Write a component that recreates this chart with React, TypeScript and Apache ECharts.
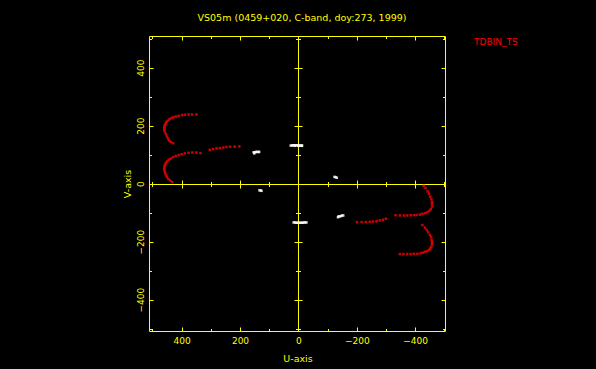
import React, { useEffect, useRef } from "react";
import * as echarts from "echarts";

const titleText = "VS05m (0459+020, C-band, doy:273, 1999)";
const sourceLabel = "TDBIN_TS";
const uName = "U-axis";
const vName = "V-axis";

const uMin = -504;
const uMax = 510;
const vMin = -506;
const vMax = 507;

const labelTicks = [-400, -200, 0, 200, 400];
const majorTicks = [-400, -200, 0, 200, 400];
const minorTicks = [-500, -300, -100, 100, 300, 500];

// red tracks (u, v)
const redArcA = [
  [351, 240], [366, 240], [378, 240], [390, 239], [400, 238], [411, 235], [420, 233], [429, 231],
  [436, 228], [443, 224], [448, 219], [453, 215], [456, 210], [459, 204], [460, 199], [461, 193],
  [461, 187], [459, 179], [455, 172], [452, 164], [448, 157], [445, 150], [439, 146], [431, 141],
];
const redArcB = [
  [337, 107], [351, 109], [365, 109], [378, 108], [391, 106], [402, 103], [412, 100], [422, 97],
  [431, 93], [439, 88], [446, 84], [452, 78], [456, 72], [459, 66], [461, 59], [461, 52],
  [460, 45], [458, 38], [455, 31], [452, 24], [447, 17], [441, 12], [434, 7],
];
const redArcC = [
  [305, 118], [294, 121], [282, 123], [271, 124], [259, 126], [248, 128], [236, 129], [220, 129], [204, 130],
];
const redArcB2 = [
  [-428, -6], [-434, -14], [-441, -25], [-446, -33], [-450, -43], [-454, -52], [-456, -61], [-456, -68],
  [-456, -77], [-452, -86], [-447, -92], [-440, -97], [-432, -100], [-423, -102], [-414, -105], [-403, -106],
  [-394, -107], [-383, -107], [-371, -108], [-360, -108], [-346, -108], [-331, -107],
];
const redArcC2 = [
  [-298, -119], [-288, -123], [-277, -125], [-266, -128], [-254, -129], [-243, -130], [-229, -131], [-215, -131], [-199, -131],
];
const redArcA2 = [
  [-423, -141], [-432, -150], [-438, -158], [-443, -166], [-449, -175], [-453, -183], [-455, -192], [-456, -200],
  [-456, -207], [-454, -215], [-451, -221], [-447, -226], [-440, -230], [-433, -233], [-425, -236], [-417, -238],
  [-406, -240], [-394, -240], [-383, -241], [-371, -241], [-358, -241], [-346, -241],
];

// white points (u, v)
const whiteA = [[155, 110], [151, 110], [147, 111], [143, 111], [139, 111], [136, 111], [153, 106]];
const whiteB = [
  [28, 133], [24, 133], [20, 134], [16, 134], [12, 134], [8, 134], [4, 134], [0, 133], [-4, 133], [-8, 133], [-11, 133],
  [14, 132], [2, 132], [-10, 132],
];
const whiteC = [[135, -21], [131, -22], [128, -23]];
const whiteD = [[-122, 25], [-126, 24], [-130, 22]];
const whiteE = [[-152, -108], [-148, -108], [-144, -110], [-140, -111], [-136, -111], [-134, -114]];
const whiteF = [
  [18, -132], [14, -132], [10, -133], [6, -133], [2, -133], [-2, -133], [-6, -133], [-10, -133],
  [-14, -133], [-18, -132], [-22, -132], [-26, -132],
];

const YEL = "#ffff00";
const FONT = "DejaVu Sans";

export default function App() {
  const ref = useRef<HTMLDivElement>(null);
  useEffect(() => {
    if (!ref.current) return;
    const chart = echarts.init(ref.current, undefined, { renderer: "svg" });

    const renderFrame = (_params: any, api: any) => {
      const crisp = (x: number) => Math.floor(x) + 0.5;
      const a = api.coord([uMin, vMin]);
      const b = api.coord([uMax, vMax]);
      const c = api.coord([0, 0]);
      const left = crisp(Math.min(a[0], b[0]));
      const right = crisp(Math.max(a[0], b[0]) - 1);
      const top = crisp(Math.min(a[1], b[1]));
      const bottom = crisp(Math.max(a[1], b[1]));
      const cx = crisp(c[0]);
      const cy = crisp(c[1]);
      const st = { stroke: YEL, lineWidth: 1 };
      const children: any[] = [];
      const ln = (x1: number, y1: number, x2: number, y2: number) =>
        children.push({ type: "line", shape: { x1, y1, x2, y2 }, style: st });
      ln(left, top, right, top);
      ln(left, bottom, right, bottom);
      ln(left, top, left, bottom);
      ln(right, top, right, bottom);
      ln(left, cy, right, cy);
      ln(cx, top, cx, bottom);
      const tickSets: [number[], number][] = [
        [majorTicks, 4],
        [minorTicks, 2.5],
      ];
      tickSets.forEach(([vals, len]) => {
        vals.forEach((t) => {
          const x = crisp(api.coord([t, 0])[0]);
          const y = crisp(api.coord([0, t])[1]);
          ln(x, bottom, x, bottom - len);
          ln(x, top, x, top + len);
          ln(x, cy - len, x, cy + len);
          ln(left, y, left + len, y);
          ln(right, y, right - len, y);
          ln(cx - len, y, cx + len, y);
        });
      });
      return { type: "group", children };
    };

    const fmt = (v: number) => (v < 0 ? "\u2212" + Math.abs(v) : String(v));
    const pts = (name: string, data: number[][], color: string) => ({
      type: "scatter",
      name,
      data,
      symbol: "rect",
      symbolSize: 2.5,
      itemStyle: { color },
      z: 3,
      silent: true,
    });

    chart.setOption({
      animation: false,
      backgroundColor: "#000",
      textStyle: { fontFamily: FONT },
      title: {
        text: titleText,
        left: 297,
        textAlign: "center",
        top: 7,
        textStyle: { color: YEL, fontSize: 9.5, fontWeight: "normal", fontFamily: FONT },
      },
      graphic: [
        {
          type: "text",
          left: 474,
          top: 37,
          style: { text: sourceLabel, fill: "#ff0000", fontSize: 9, fontFamily: FONT },
        },
      ],
      grid: { left: 150, top: 37, width: 296, height: 294 },
      xAxis: {
        type: "value",
        min: uMin,
        max: uMax,
        inverse: true,
        splitLine: { show: false },
        axisLine: { show: false, onZero: false },
        axisTick: { show: false },
        axisLabel: {
          customValues: labelTicks,
          color: YEL,
          fontSize: 9,
          margin: 5,
          fontFamily: FONT,
          formatter: fmt,
        },
        name: uName,
        nameLocation: "middle",
        nameGap: 22,
        nameTextStyle: { color: YEL, fontSize: 9.5, fontFamily: FONT },
      },
      yAxis: {
        type: "value",
        min: vMin,
        max: vMax,
        splitLine: { show: false },
        axisLine: { show: false, onZero: false },
        axisTick: { show: false },
        axisLabel: {
          customValues: labelTicks,
          color: YEL,
          fontSize: 9,
          margin: 5,
          rotate: 90,
          fontFamily: FONT,
          formatter: fmt,
        },
        name: vName,
        nameLocation: "middle",
        nameGap: 18,
        nameRotate: 90,
        nameTextStyle: { color: YEL, fontSize: 9.5, fontFamily: FONT },
      },
      series: [
        {
          type: "custom",
          coordinateSystem: "cartesian2d",
          renderItem: renderFrame,
          data: [[0, 0]],
          silent: true,
          clip: false,
          z: 1,
        },
        pts("redA", redArcA, "#ff0000"),
        pts("redB", redArcB, "#ff0000"),
        pts("redC", redArcC, "#ff0000"),
        pts("redA2", redArcA2, "#ff0000"),
        pts("redB2", redArcB2, "#ff0000"),
        pts("redC2", redArcC2, "#ff0000"),
        pts("wA", whiteA, "#ffffff"),
        pts("wB", whiteB, "#ffffff"),
        pts("wC", whiteC, "#ffffff"),
        pts("wD", whiteD, "#ffffff"),
        pts("wE", whiteE, "#ffffff"),
        pts("wF", whiteF, "#ffffff"),
      ],
    });
    return () => chart.dispose();
  }, []);
  return (
    <div
      ref={ref}
      style={{ position: "fixed", left: 0, top: 0, width: 596, height: 369, background: "#000" }}
    />
  );
}
